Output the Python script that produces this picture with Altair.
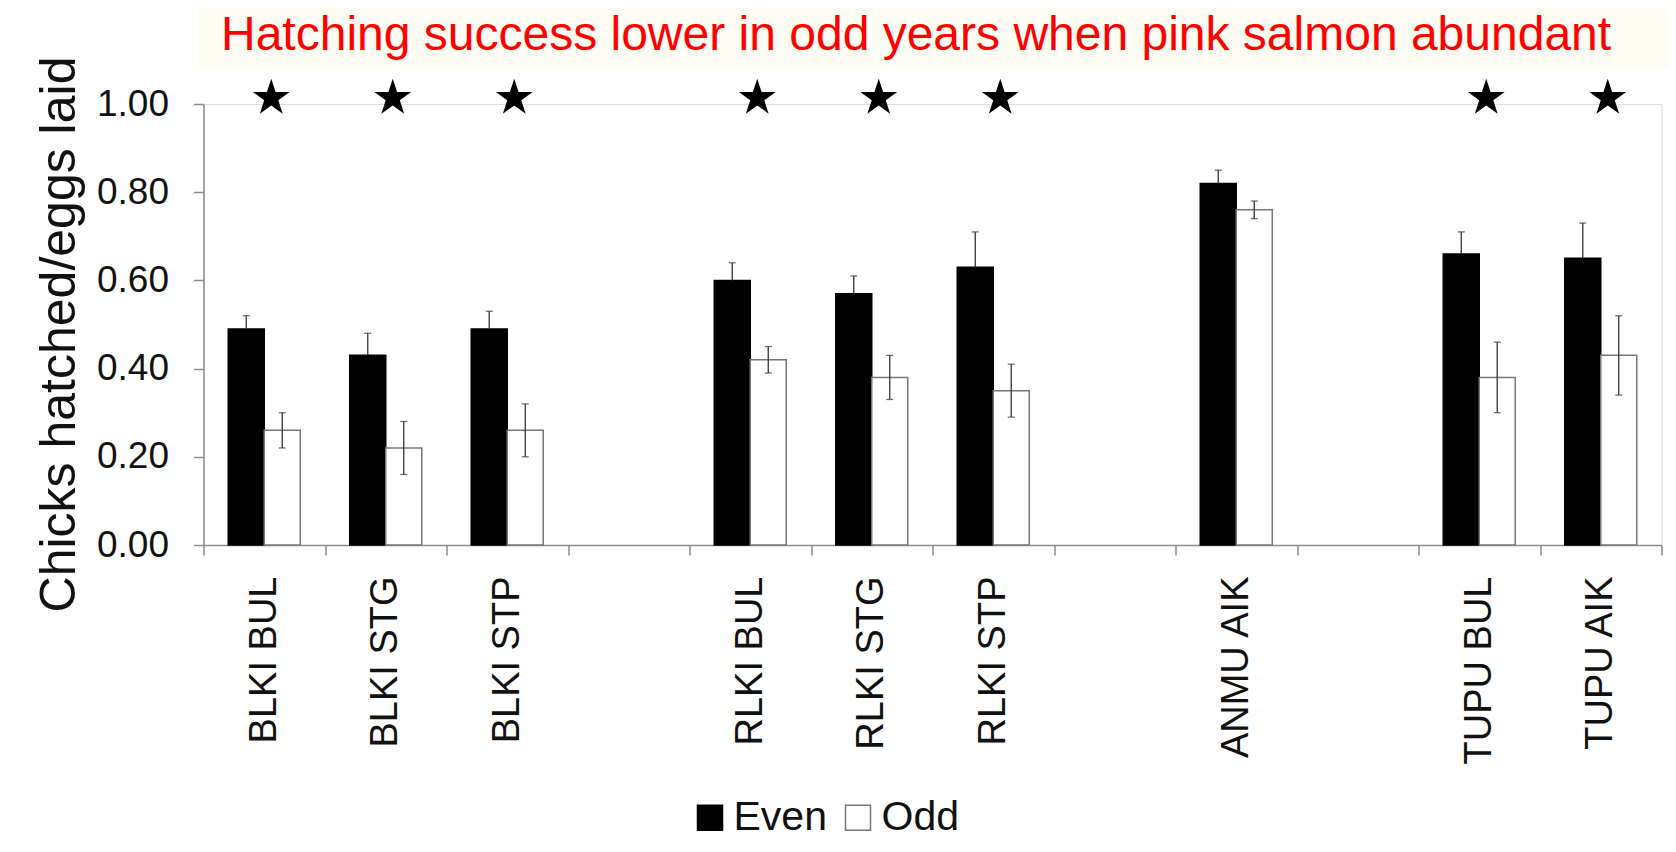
import altair as alt
import pandas as pd

# ---- data ----
slots = ["BLKI BUL", "BLKI STG", "BLKI STP", " ", "RLKI BUL", "RLKI STG", "RLKI STP",
         "  ", "ANMU AIK", "   ", "TUPU BUL", "TUPU AIK"]
groups = ["BLKI BUL", "BLKI STG", "BLKI STP", "RLKI BUL", "RLKI STG", "RLKI STP",
          "ANMU AIK", "TUPU BUL", "TUPU AIK"]
even = [0.49, 0.43, 0.49, 0.60, 0.57, 0.63, 0.82, 0.66, 0.65]
even_err = [0.03, 0.05, 0.04, 0.04, 0.04, 0.08, 0.03, 0.05, 0.08]
odd = [0.26, 0.22, 0.26, 0.42, 0.38, 0.35, 0.76, 0.38, 0.43]
odd_err = [0.04, 0.06, 0.06, 0.03, 0.05, 0.06, 0.02, 0.08, 0.09]
significant = [True, True, True, True, True, True, False, True, True]
parities = ["Even", "Odd"]
title_text = "Hatching success lower in odd years when pink salmon abundant"
y_title = "Chicks hatched/eggs laid"

rows = []
for g, e, ee, o, oe in zip(groups, even, even_err, odd, odd_err):
    # the lower half of the Even error bar is hidden inside the black bar
    rows.append({"cat": g, "parity": "Even", "value": e, "lo": e, "hi": e + ee, "cap_lo": None})
    rows.append({"cat": g, "parity": "Odd", "value": o, "lo": o - oe, "hi": o + oe, "cap_lo": o - oe})
df = pd.DataFrame(rows)
stars_df = pd.DataFrame({"cat": [g for g, s in zip(groups, significant) if s]})
title_df = pd.DataFrame({"t": [title_text]})

FONT = "Liberation Sans"
W, H = 1458, 441

x_enc = alt.X(
    "cat:N",
    scale=alt.Scale(domain=slots, paddingInner=0, paddingOuter=0),
    axis=alt.Axis(
        title=None, labelAngle=-90, labelFontSize=38, labelColor="#111111",
        labelPadding=21, labelLimit=0, labelOverlap=False,
        tickSize=10, tickBand="extent", tickColor="#8a8a8a",
        tickWidth=1.5, domainColor="#8a8a8a", domainWidth=1.5, labelFont=FONT,
    ),
)
xo_enc = alt.XOffset(
    "parity:N",
    scale=alt.Scale(domain=parities, paddingOuter=0.6875, paddingInner=0),
)
y_scale = alt.Scale(domain=[0, 1], nice=False)

legend = alt.Legend(
    title=None, orient="none", direction="horizontal",
    legendX=486, legendY=693, symbolType="square", symbolSize=625,
    symbolStrokeWidth=1.5, labelFontSize=41, labelColor="#111111",
    labelOffset=3, columnPadding=10, labelFont=FONT,
)

bars = alt.Chart(df).mark_bar(strokeWidth=1.5).encode(
    x=x_enc,
    xOffset=xo_enc,
    y=alt.Y(
        "value:Q",
        scale=y_scale,
        axis=alt.Axis(
            title=y_title, format=".2f", values=[0, 0.2, 0.4, 0.6, 0.8, 1.0],
            grid=False, labelFontSize=37, labelColor="#111111", labelPadding=25,
            tickSize=10, tickColor="#8a8a8a", tickWidth=1.5,
            domainColor="#8a8a8a", domainWidth=1.5,
            titleFontSize=50, titleFontWeight="normal", titleColor="#111111",
            titleAngle=270, titleAlign="center", titleBaseline="middle",
            titleX=-144, titleY=230, labelFont=FONT, titleFont=FONT,
        ),
    ),
    fill=alt.Fill(
        "parity:N",
        scale=alt.Scale(domain=parities, range=["#000000", "#ffffff"]),
        legend=legend,
    ),
    stroke=alt.Stroke(
        "parity:N",
        scale=alt.Scale(domain=parities, range=["#000000", "#777777"]),
        legend=legend,
    ),
)

err_rule = alt.Chart(df).mark_rule(color="#333333", strokeWidth=1.3).encode(
    x=alt.X("cat:N"), xOffset=alt.XOffset("parity:N"),
    y=alt.Y("lo:Q", scale=y_scale), y2="hi:Q",
)
cap_hi = alt.Chart(df).mark_tick(color="#333333", thickness=1.3, size=7,
                                 orient="horizontal").encode(
    x=alt.X("cat:N"), xOffset=alt.XOffset("parity:N"), y=alt.Y("hi:Q", scale=y_scale),
)
cap_lo = alt.Chart(df).mark_tick(color="#333333", thickness=1.3, size=7,
                                 orient="horizontal").encode(
    x=alt.X("cat:N"), xOffset=alt.XOffset("parity:N"), y=alt.Y("cap_lo:Q", scale=y_scale),
).transform_filter("isValid(datum.cap_lo)")

STAR = ("M0,-1L0.2245,-0.309L0.9511,-0.309L0.3633,0.118L0.5878,0.809L0,0.382"
        "L-0.5878,0.809L-0.3633,0.118L-0.9511,-0.309L-0.2245,-0.309Z")
stars = alt.Chart(stars_df).mark_point(
    shape=STAR, filled=True, size=1500, color="#000000", opacity=1, xOffset=7
).encode(x=alt.X("cat:N"), y=alt.value(-6))

title_bg = alt.Chart(title_df).mark_rect(color="#fdfdf3").encode(
    x=alt.value(-4.5), x2=alt.value(1470), y=alt.value(-100), y2=alt.value(-35)
)
title = alt.Chart(title_df).mark_text(
    align="left", baseline="alphabetic", fontSize=48, color="#ff0000", font=FONT
).encode(x=alt.value(17.5), y=alt.value(-54), text="t:N")

chart = alt.layer(title_bg, bars, err_rule, cap_hi, cap_lo, stars, title).properties(
    width=W, height=H,
    autosize=alt.AutoSizeParams(type="none"),
    padding={"left": 195.5, "top": 96, "right": 6.5, "bottom": 299},
    background="#ffffff",
).configure_view(stroke=None).configure(font=FONT)

chart.save("out.html", embed_options={"renderer": "svg", "actions": False})
